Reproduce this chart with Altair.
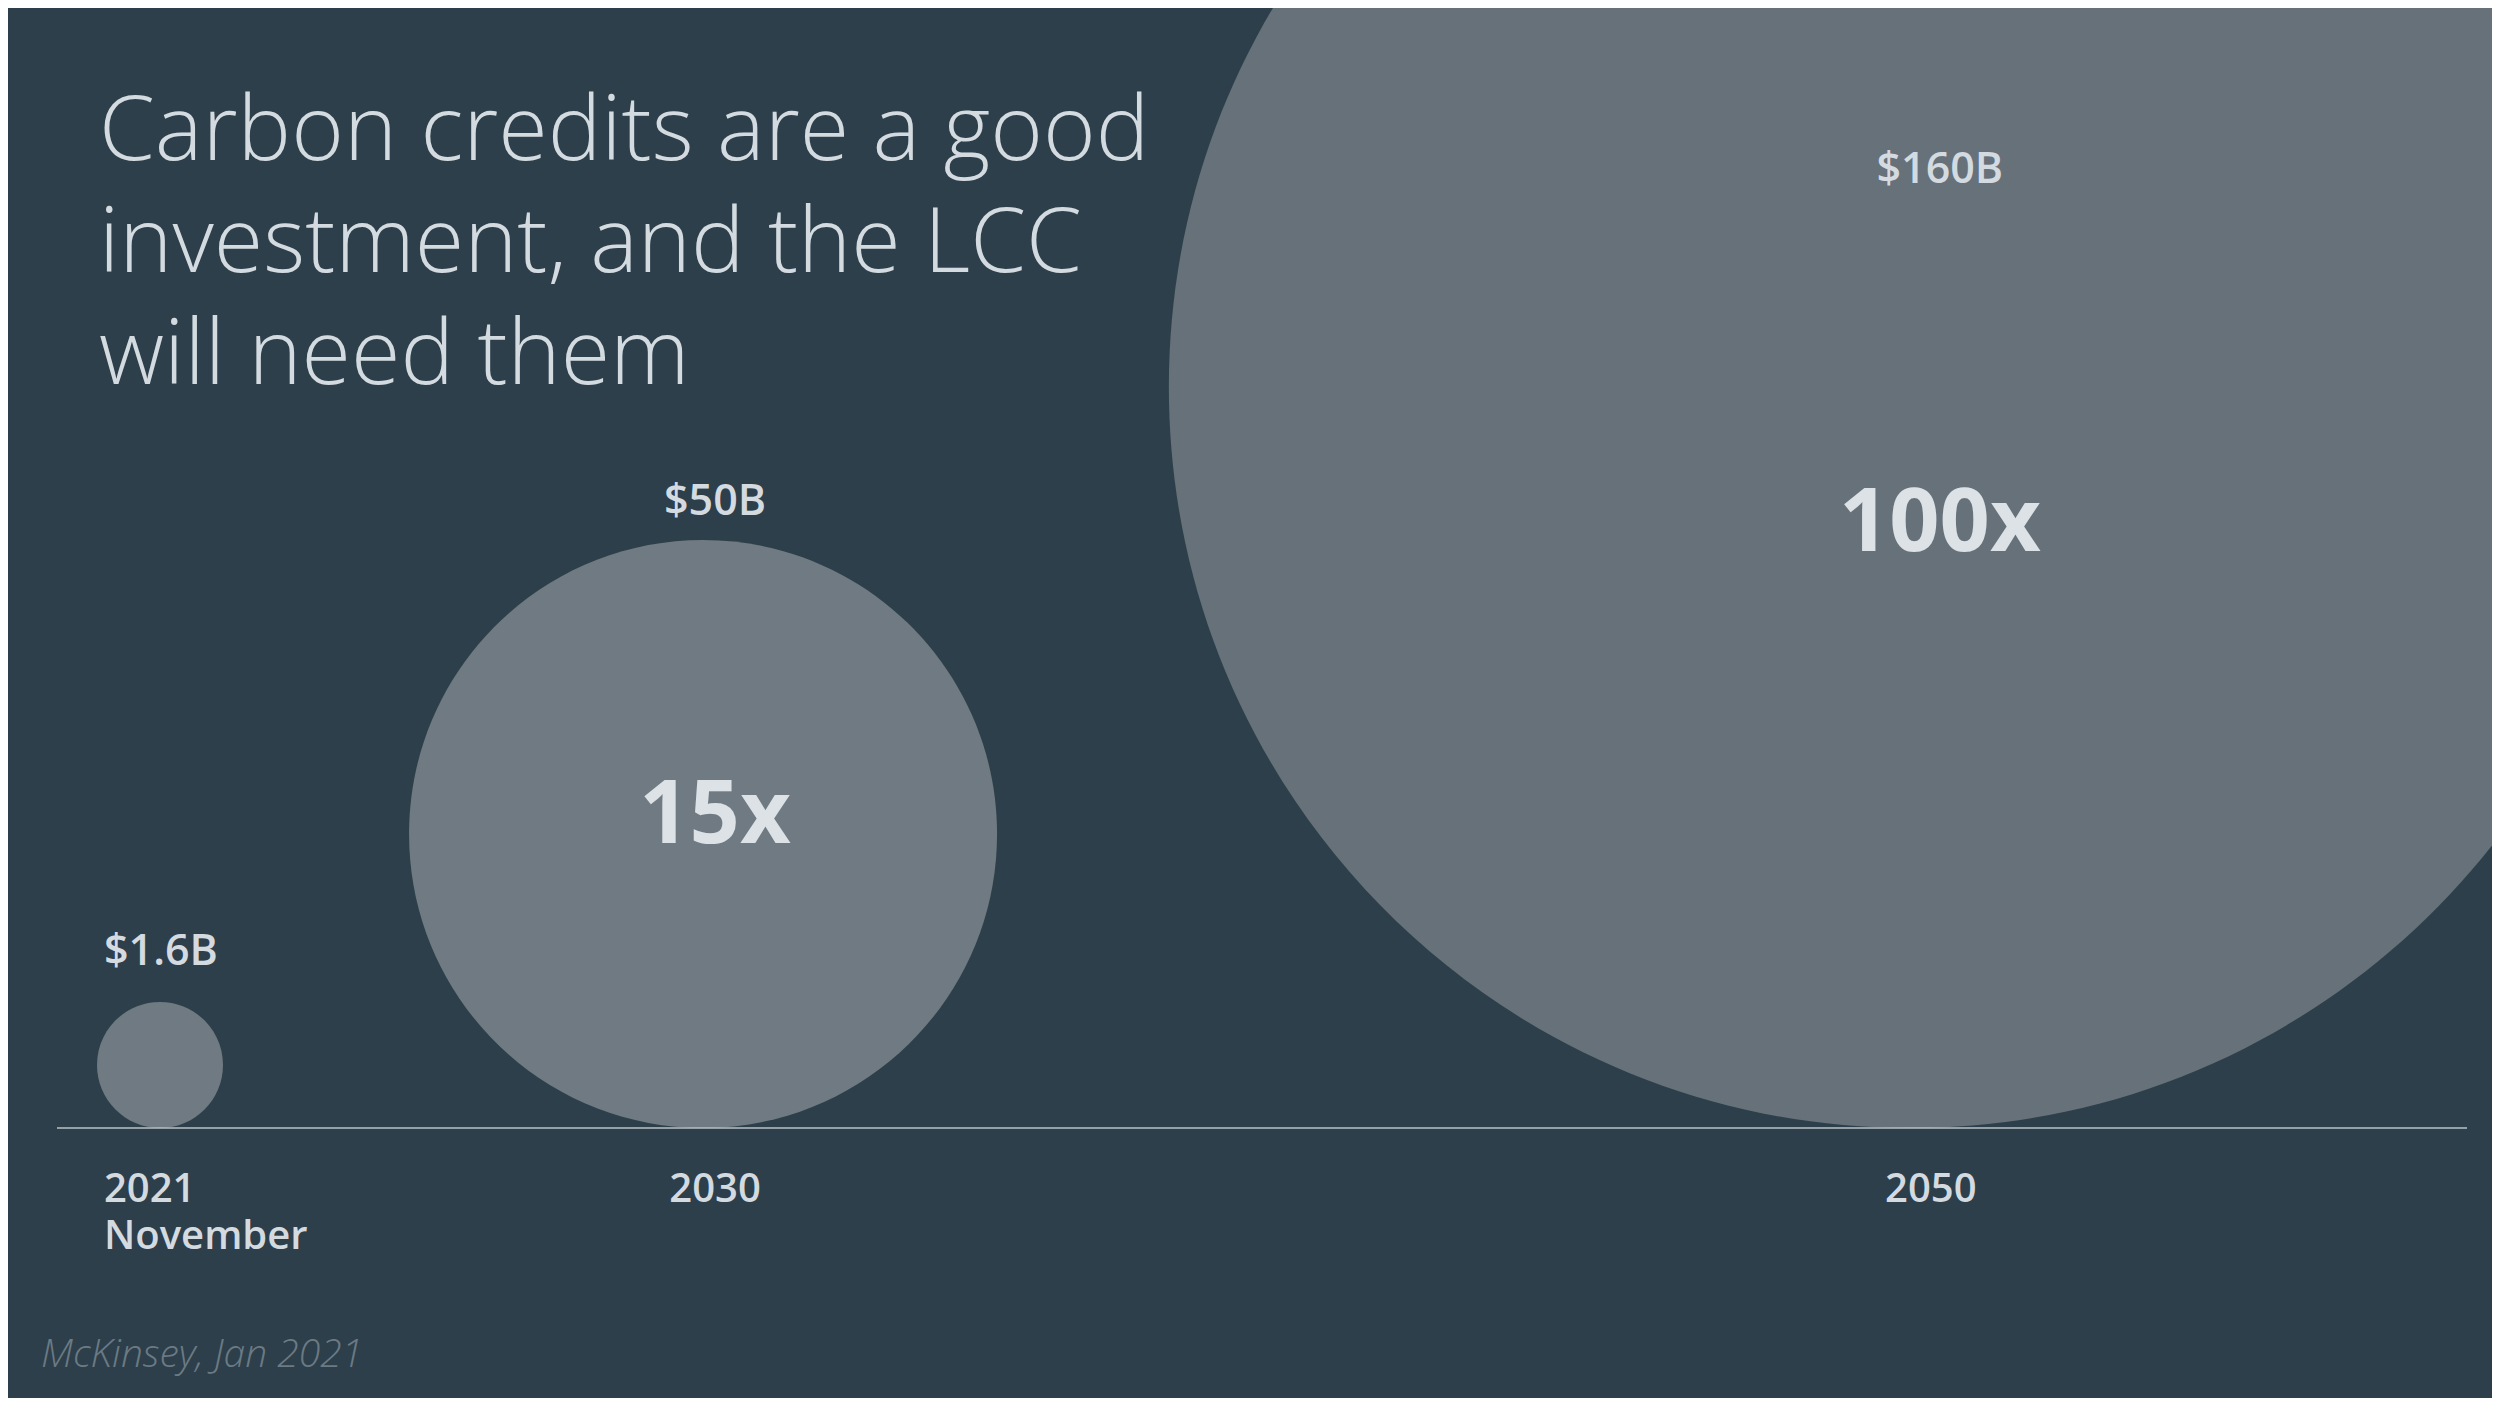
import altair as alt
import pandas as pd

# ---------------- data ----------------
years = [2021, 2030, 2050]
market_value_b = [1.6, 50, 160]
value_labels = ["$1.6B", "$50B", "$160B"]
multiple_labels = ["", "15x", "100x"]
year_labels = ["2021\nNovember", "2030", "2050"]
title_lines = ["Carbon credits are a good", "investment, and the LCC", "will need them"]
source_note = "McKinsey, Jan 2021"

df = pd.DataFrame({
    "year": years,
    "value": market_value_b,
    "value_label": value_labels,
    "multiple": multiple_labels,
    "year_label": year_labels,
})

# ---------------- style ----------------
W, H = 2484, 1390
BASE = 1120
BG = "#2d3f4a"
TXT = "#d3dae0"
BUBBLE_COLORS = ["#6f7a82", "#6f7a82", "#66717a"]
FONT = "Open Sans"
# circle anchored at its bottom point (unit radius, scaled by symbol size)
BUBBLE = ("M0,0 C0.5523,0 1,-0.4477 1,-1 C1,-1.5523 0.5523,-2 0,-2 "
          "C-0.5523,-2 -1,-1.5523 -1,-1 C-1,-0.4477 -0.5523,0 0,0 Z")
BUBBLE_DIAMETERS = [126, 588, 1482]

xs = alt.Scale(domain=[2018.481, 2059.648], nice=False, zero=False)
ys = alt.Scale(domain=[0, BASE], range=[BASE, 0], nice=False, zero=False)

base = alt.Chart(df)

bubbles = base.mark_point(shape=BUBBLE, filled=True, opacity=1, strokeWidth=0).encode(
    x=alt.X("year:Q", scale=xs, axis=None),
    y=alt.Y(datum=0, type="quantitative", scale=ys, axis=None),
    size=alt.Size("value:Q", scale=alt.Scale(type="linear", domain=market_value_b,
                                             range=[d * d for d in BUBBLE_DIAMETERS],
                                             zero=False), legend=None),
    color=alt.Color("year:N", scale=alt.Scale(domain=years, range=BUBBLE_COLORS), legend=None),
)

baseline = alt.Chart(pd.DataFrame({"b": [0]})).mark_rule(color="#b9c2c7", strokeWidth=1.6).encode(
    x=alt.value(49), x2=alt.value(2459),
    y=alt.Y("b:Q", scale=ys, axis=None),
)

# label placement per year
place = {
    2021: dict(dx=-56, align="left", vy=957),
    2030: dict(dx=12, align="center", vy=507, my=835),
    2050: dict(dx=30, align="center", vy=175, my=543, ydx=21),
}

layers = [bubbles, baseline]
for yr, p in place.items():
    sub = base.transform_filter(alt.datum.year == yr)
    layers.append(sub.mark_text(align=p["align"], baseline="alphabetic", dx=p["dx"],
                                font=FONT, fontWeight=600, fontSize=43, color=TXT).encode(
        x=alt.X("year:Q", scale=xs, axis=None), y=alt.value(p["vy"]), text="value_label:N"))
    if "my" in p:
        layers.append(sub.mark_text(align="center", baseline="alphabetic", dx=p["dx"],
                                    font=FONT, fontWeight=700, fontSize=88, color="#dde2e6").encode(
            x=alt.X("year:Q", scale=xs, axis=None), y=alt.value(p["my"]), text="multiple:N"))
    layers.append(sub.mark_text(align=p["align"], baseline="alphabetic", dx=p.get("ydx", p["dx"]),
                                lineBreak="\n", lineHeight=47,
                                font=FONT, fontWeight=600, fontSize=40, color=TXT).encode(
        x=alt.X("year:Q", scale=xs, axis=None), y=alt.value(1194), text="year_label:N"))

title = alt.Chart(pd.DataFrame({"t": ["\n".join(title_lines)]})).mark_text(
    align="left", baseline="alphabetic", lineBreak="\n", lineHeight=112,
    font=FONT, fontWeight=300, fontSize=90, color=TXT,
).encode(x=alt.value(91), y=alt.value(152), text="t:N")

note = alt.Chart(pd.DataFrame({"t": [source_note]})).mark_text(
    align="left", baseline="alphabetic", font=FONT, fontWeight=300, fontStyle="italic",
    fontSize=39, color="#6b7a84",
).encode(x=alt.value(33), y=alt.value(1359), text="t:N")

layers += [title, note]

chart = alt.layer(*layers).properties(
    width=W, height=H, background=BG, padding=0, autosize="none",
).configure_view(stroke=None)

chart.save("out.html", embed_options={"renderer": "svg", "actions": False})
